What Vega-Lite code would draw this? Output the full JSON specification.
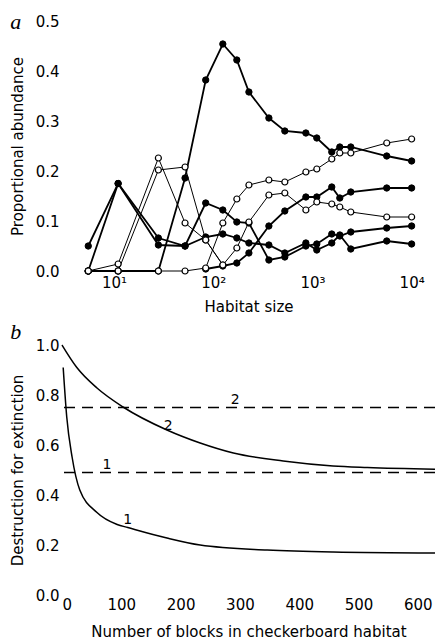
{
  "$schema": "https://vega.github.io/schema/vega-lite/v6.json",
  "padding": {"left": 10, "top": 11, "right": 0, "bottom": 0},
  "background": "white",
  "spacing": 7,
  "config": {
    "view": {"stroke": null},
    "font": "DejaVu Sans",
    "axis": {"domain": false, "ticks": false, "grid": false, "labelFont": "DejaVu Sans", "labelFontSize": 15, "labelColor": "black", "titleFont": "DejaVu Sans", "titleFontSize": 15, "titleFontWeight": "normal", "titleColor": "black"}
  },
  "datasets": {
    "abundance": [
      {"species": "S1", "marker": "filled", "size": 5.5, "abundance": 0},
      {"species": "S1", "marker": "filled", "size": 11, "abundance": 0},
      {"species": "S1", "marker": "filled", "size": 28, "abundance": 0},
      {"species": "S1", "marker": "filled", "size": 52, "abundance": 0.186},
      {"species": "S1", "marker": "filled", "size": 84, "abundance": 0.382},
      {"species": "S1", "marker": "filled", "size": 125, "abundance": 0.454},
      {"species": "S1", "marker": "filled", "size": 173, "abundance": 0.422},
      {"species": "S1", "marker": "filled", "size": 229, "abundance": 0.358},
      {"species": "S1", "marker": "filled", "size": 364, "abundance": 0.306},
      {"species": "S1", "marker": "filled", "size": 527, "abundance": 0.28},
      {"species": "S1", "marker": "filled", "size": 859, "abundance": 0.276},
      {"species": "S1", "marker": "filled", "size": 1107, "abundance": 0.266},
      {"species": "S1", "marker": "filled", "size": 1567, "abundance": 0.238},
      {"species": "S1", "marker": "filled", "size": 1888, "abundance": 0.248},
      {"species": "S1", "marker": "filled", "size": 2437, "abundance": 0.248},
      {"species": "S1", "marker": "filled", "size": 5611, "abundance": 0.23},
      {"species": "S1", "marker": "filled", "size": 10000, "abundance": 0.22},

      {"species": "S2", "marker": "filled", "size": 5.5, "abundance": 0.05},
      {"species": "S2", "marker": "filled", "size": 11, "abundance": 0.175},
      {"species": "S2", "marker": "filled", "size": 28, "abundance": 0.052},
      {"species": "S2", "marker": "filled", "size": 52, "abundance": 0.05},
      {"species": "S2", "marker": "filled", "size": 84, "abundance": 0.136},
      {"species": "S2", "marker": "filled", "size": 125, "abundance": 0.122},
      {"species": "S2", "marker": "filled", "size": 173, "abundance": 0.098},
      {"species": "S2", "marker": "filled", "size": 229, "abundance": 0.096},
      {"species": "S2", "marker": "filled", "size": 364, "abundance": 0.022},
      {"species": "S2", "marker": "filled", "size": 527, "abundance": 0.028},
      {"species": "S2", "marker": "filled", "size": 859, "abundance": 0.05},
      {"species": "S2", "marker": "filled", "size": 1107, "abundance": 0.054},
      {"species": "S2", "marker": "filled", "size": 1567, "abundance": 0.074},
      {"species": "S2", "marker": "filled", "size": 1888, "abundance": 0.07},
      {"species": "S2", "marker": "filled", "size": 2437, "abundance": 0.078},
      {"species": "S2", "marker": "filled", "size": 5611, "abundance": 0.086},
      {"species": "S2", "marker": "filled", "size": 10000, "abundance": 0.09},

      {"species": "S3", "marker": "filled", "size": 5.5, "abundance": 0},
      {"species": "S3", "marker": "filled", "size": 11, "abundance": 0.175},
      {"species": "S3", "marker": "filled", "size": 28, "abundance": 0.066},
      {"species": "S3", "marker": "filled", "size": 52, "abundance": 0.05},
      {"species": "S3", "marker": "filled", "size": 84, "abundance": 0.068},
      {"species": "S3", "marker": "filled", "size": 125, "abundance": 0.074},
      {"species": "S3", "marker": "filled", "size": 173, "abundance": 0.066},
      {"species": "S3", "marker": "filled", "size": 229, "abundance": 0.056},
      {"species": "S3", "marker": "filled", "size": 364, "abundance": 0.052},
      {"species": "S3", "marker": "filled", "size": 527, "abundance": 0.036},
      {"species": "S3", "marker": "filled", "size": 859, "abundance": 0.056},
      {"species": "S3", "marker": "filled", "size": 1107, "abundance": 0.042},
      {"species": "S3", "marker": "filled", "size": 1567, "abundance": 0.056},
      {"species": "S3", "marker": "filled", "size": 1888, "abundance": 0.072},
      {"species": "S3", "marker": "filled", "size": 2437, "abundance": 0.044},
      {"species": "S3", "marker": "filled", "size": 5611, "abundance": 0.06},
      {"species": "S3", "marker": "filled", "size": 10000, "abundance": 0.054},

      {"species": "S4", "marker": "open", "size": 5.5, "abundance": 0},
      {"species": "S4", "marker": "open", "size": 11, "abundance": 0.014},
      {"species": "S4", "marker": "open", "size": 28, "abundance": 0.226},
      {"species": "S4", "marker": "open", "size": 52, "abundance": 0.096},
      {"species": "S4", "marker": "open", "size": 84, "abundance": 0.062},
      {"species": "S4", "marker": "open", "size": 125, "abundance": 0.012},
      {"species": "S4", "marker": "open", "size": 173, "abundance": 0.046},
      {"species": "S4", "marker": "open", "size": 229, "abundance": 0.098},
      {"species": "S4", "marker": "open", "size": 364, "abundance": 0.152},
      {"species": "S4", "marker": "open", "size": 527, "abundance": 0.156},
      {"species": "S4", "marker": "open", "size": 859, "abundance": 0.122},
      {"species": "S4", "marker": "open", "size": 1107, "abundance": 0.138},
      {"species": "S4", "marker": "open", "size": 1567, "abundance": 0.134},
      {"species": "S4", "marker": "open", "size": 1888, "abundance": 0.128},
      {"species": "S4", "marker": "open", "size": 2437, "abundance": 0.118},
      {"species": "S4", "marker": "open", "size": 5611, "abundance": 0.108},
      {"species": "S4", "marker": "open", "size": 10000, "abundance": 0.108},

      {"species": "S5", "marker": "open", "size": 5.5, "abundance": 0},
      {"species": "S5", "marker": "open", "size": 11, "abundance": 0},
      {"species": "S5", "marker": "open", "size": 28, "abundance": 0.202},
      {"species": "S5", "marker": "open", "size": 52, "abundance": 0.208},
      {"species": "S5", "marker": "open", "size": 84, "abundance": 0.062},
      {"species": "S5", "marker": "open", "size": 125, "abundance": 0.012},

      {"species": "S6", "marker": "open", "size": 5.5, "abundance": 0},
      {"species": "S6", "marker": "open", "size": 11, "abundance": 0},
      {"species": "S6", "marker": "open", "size": 28, "abundance": 0},
      {"species": "S6", "marker": "open", "size": 52, "abundance": 0},
      {"species": "S6", "marker": "open", "size": 84, "abundance": 0.006},
      {"species": "S6", "marker": "open", "size": 125, "abundance": 0.096},
      {"species": "S6", "marker": "open", "size": 173, "abundance": 0.144},
      {"species": "S6", "marker": "open", "size": 229, "abundance": 0.172},
      {"species": "S6", "marker": "open", "size": 364, "abundance": 0.182},
      {"species": "S6", "marker": "open", "size": 527, "abundance": 0.178},
      {"species": "S6", "marker": "open", "size": 859, "abundance": 0.198},
      {"species": "S6", "marker": "open", "size": 1107, "abundance": 0.204},
      {"species": "S6", "marker": "open", "size": 1567, "abundance": 0.224},
      {"species": "S6", "marker": "open", "size": 1888, "abundance": 0.236},
      {"species": "S6", "marker": "open", "size": 2437, "abundance": 0.236},
      {"species": "S6", "marker": "open", "size": 5611, "abundance": 0.256},
      {"species": "S6", "marker": "open", "size": 10000, "abundance": 0.264},

      {"species": "S7", "marker": "filled", "size": 84, "abundance": 0.004},
      {"species": "S7", "marker": "filled", "size": 125, "abundance": 0.01},
      {"species": "S7", "marker": "filled", "size": 173, "abundance": 0.016},
      {"species": "S7", "marker": "filled", "size": 229, "abundance": 0.036},
      {"species": "S7", "marker": "filled", "size": 364, "abundance": 0.09},
      {"species": "S7", "marker": "filled", "size": 527, "abundance": 0.12},
      {"species": "S7", "marker": "filled", "size": 859, "abundance": 0.148},
      {"species": "S7", "marker": "filled", "size": 1107, "abundance": 0.148},
      {"species": "S7", "marker": "filled", "size": 1567, "abundance": 0.168},
      {"species": "S7", "marker": "filled", "size": 1888, "abundance": 0.146},
      {"species": "S7", "marker": "filled", "size": 2437, "abundance": 0.158},
      {"species": "S7", "marker": "filled", "size": 5611, "abundance": 0.166},
      {"species": "S7", "marker": "filled", "size": 10000, "abundance": 0.166}
    ],
    "curves": [
      {"curve": "1", "blocks": 2, "destruction": 0.91},
      {"curve": "1", "blocks": 8, "destruction": 0.712},
      {"curve": "1", "blocks": 17, "destruction": 0.552},
      {"curve": "1", "blocks": 30, "destruction": 0.42},
      {"curve": "1", "blocks": 59, "destruction": 0.33},
      {"curve": "1", "blocks": 93, "destruction": 0.282},
      {"curve": "1", "blocks": 111, "destruction": 0.27},
      {"curve": "1", "blocks": 177, "destruction": 0.228},
      {"curve": "1", "blocks": 233, "destruction": 0.2},
      {"curve": "1", "blocks": 346, "destruction": 0.18},
      {"curve": "1", "blocks": 457, "destruction": 0.172},
      {"curve": "1", "blocks": 629, "destruction": 0.168},
      {"curve": "2", "blocks": 0, "destruction": 1.0},
      {"curve": "2", "blocks": 25, "destruction": 0.91},
      {"curve": "2", "blocks": 59, "destruction": 0.828},
      {"curve": "2", "blocks": 103, "destruction": 0.752},
      {"curve": "2", "blocks": 177, "destruction": 0.66},
      {"curve": "2", "blocks": 233, "destruction": 0.608},
      {"curve": "2", "blocks": 289, "destruction": 0.568},
      {"curve": "2", "blocks": 373, "destruction": 0.536},
      {"curve": "2", "blocks": 457, "destruction": 0.516},
      {"curve": "2", "blocks": 515, "destruction": 0.51},
      {"curve": "2", "blocks": 629, "destruction": 0.503}
    ],
    "thresholds": [
      {"curve": "1", "destruction": 0.49},
      {"curve": "2", "destruction": 0.75}
    ],
    "labels": [
      {"label": "2", "blocks": 292, "destruction": 0.782},
      {"label": "2", "blocks": 179, "destruction": 0.676},
      {"label": "1", "blocks": 76, "destruction": 0.52},
      {"label": "1", "blocks": 111, "destruction": 0.3}
    ]
  },
  "vconcat": [
    {
      "title": {"text": "a", "anchor": "start", "frame": "bounds", "font": "Liberation Serif", "fontStyle": "italic", "fontWeight": "normal", "fontSize": 22, "color": "black", "offset": 0, "dy": 20},
      "width": 373,
      "height": 250,
      "data": {"name": "abundance"},
      "encoding": {
        "x": {"field": "size", "type": "quantitative", "scale": {"type": "log", "domain": [2.99, 17200], "nice": false},
              "axis": {"values": [10, 100, 1000, 10000], "labelExpr": "'10' + ['⁰','¹','²','³','⁴','⁵'][round(log(datum.value)/LN10)]", "title": "Habitat size", "labelPadding": 4, "titlePadding": 9}},
        "y": {"field": "abundance", "type": "quantitative", "scale": {"domain": [0, 0.5], "nice": false},
              "axis": {"values": [0, 0.1, 0.2, 0.3, 0.4, 0.5], "format": ".1f", "title": "Proportional abundance", "labelPadding": 3, "titlePadding": 10}}
      },
      "layer": [
        {"mark": {"type": "line", "color": "black"},
         "encoding": {"detail": {"field": "species"},
                      "strokeWidth": {"field": "marker", "type": "nominal", "scale": {"domain": ["filled", "open"], "range": [1.8, 1.0]}, "legend": null}}},
        {"transform": [{"filter": "datum.marker === 'filled'"}],
         "mark": {"type": "point", "shape": "circle", "size": 40, "filled": true, "fill": "black", "stroke": "black", "strokeWidth": 1, "opacity": 1}},
        {"transform": [{"filter": "datum.marker === 'open'"}],
         "mark": {"type": "point", "shape": "circle", "size": 36, "filled": true, "fill": "white", "stroke": "black", "strokeWidth": 1.2, "opacity": 1}}
      ]
    },
    {
      "title": {"text": "b", "anchor": "start", "frame": "bounds", "font": "Liberation Serif", "fontStyle": "italic", "fontWeight": "normal", "fontSize": 22, "color": "black", "offset": 0, "dy": 6},
      "width": 373,
      "height": 250,
      "layer": [
        {"data": {"name": "curves"},
         "mark": {"type": "line", "color": "black", "strokeWidth": 1.5, "interpolate": "monotone"},
         "encoding": {
           "x": {"field": "blocks", "type": "quantitative", "scale": {"domain": [0, 629], "nice": false},
                 "axis": {"values": [0, 100, 200, 300, 400, 500, 600], "title": "Number of blocks in checkerboard habitat", "labelPadding": 2, "titlePadding": 12}},
           "y": {"field": "destruction", "type": "quantitative", "scale": {"domain": [0, 1], "nice": false},
                 "axis": {"values": [0, 0.2, 0.4, 0.6, 0.8, 1.0], "format": ".1f", "title": "Destruction for extinction", "labelPadding": 3, "titlePadding": 10}},
           "detail": {"field": "curve"}
         }},
        {"data": {"name": "thresholds"},
         "mark": {"type": "rule", "color": "black", "strokeWidth": 1.5, "strokeDash": [11, 7]},
         "encoding": {"y": {"field": "destruction", "type": "quantitative"}}},
        {"data": {"name": "labels"},
         "mark": {"type": "text", "font": "DejaVu Sans", "fontSize": 14, "color": "black", "baseline": "middle", "align": "center"},
         "encoding": {
           "x": {"field": "blocks", "type": "quantitative"},
           "y": {"field": "destruction", "type": "quantitative"},
           "text": {"field": "label"}
         }}
      ]
    }
  ]
}
